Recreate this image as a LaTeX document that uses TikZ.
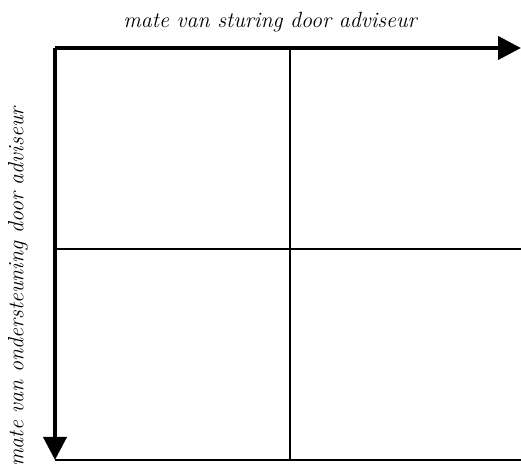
\documentclass[tikz,border=0pt]{standalone}
\usetikzlibrary{arrows.meta}
\begin{document}
\begin{tikzpicture}[x=0.5pt,y=-0.5pt,
  axis/.style={line width=2pt,-{Triangle[length=11.5pt,width=11.5pt]}},
  gridline/.style={line width=1pt},
  lbl/.style={font=\fontsize{11}{13}\selectfont\itshape,inner sep=0pt}]
\useasboundingbox (0,0) rectangle (521,464);
\coordinate (O) at (55,48);
\coordinate (XE) at (521,48);
\coordinate (YE) at (55,460);
\coordinate (MT) at (290,48);
\coordinate (MB) at (290,460);
\coordinate (ML) at (55,249);
\coordinate (MR) at (521,249);
\coordinate (BR) at (521,460);
\draw[gridline] (MT) -- (MB);
\draw[gridline] (ML) -- (MR);
\draw[gridline] (YE) -- (BR);
\draw[axis] (O) -- (XE);
\draw[axis] (O) -- (YE);
\node[lbl] (xl) at (270,22) {mate van sturing door adviseur};
\node[lbl,rotate=90] (yl) at (18,287) {mate van ondersteuning door adviseur};
\end{tikzpicture}
\end{document}
